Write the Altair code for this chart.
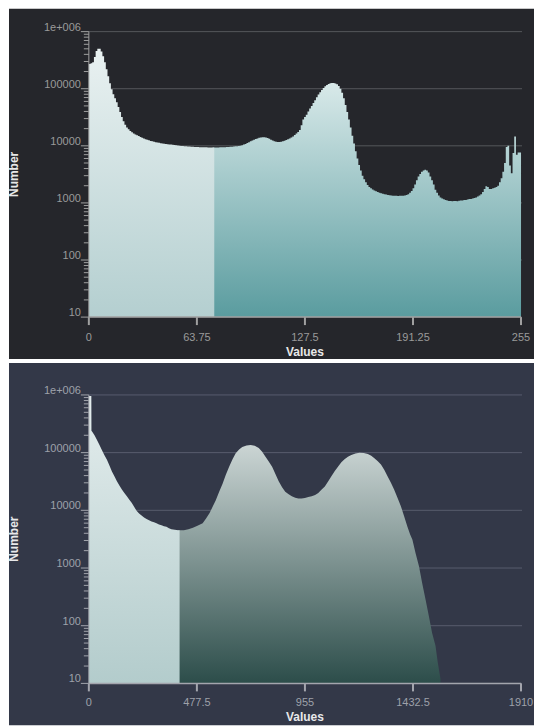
import altair as alt
import pandas as pd

FONT = "Liberation Sans"

# ---------------- top histogram (0..255) ----------------
top_counts = [
    270000, 280000, 290000, 360000, 460000, 500000, 500000, 450000, 370000, 290000,
    220000, 165000, 125000, 98000, 80000, 68000, 58000, 48000, 39000, 32000,
    27000, 23500, 21000, 19500, 18200, 17200, 16400, 15800, 15300, 14800,
    14300, 13900, 13500, 13100, 12800, 12500, 12200, 12000, 11800, 11600,
    11400, 11300, 11100, 11000, 10900, 10800, 10700, 10600, 10500, 10400,
    10300, 10200, 10100, 10000, 9900, 9900, 9800, 9800, 9700, 9700,
    9600, 9600, 9500, 9500, 9500, 9400, 9400, 9400, 9400, 9400,
    9300, 9300, 9300, 9300, 9300, 9300, 9300, 9400, 9400, 9400,
    9400, 9500, 9500, 9600, 9600, 9700, 9800, 9800, 9900, 10000,
    10200, 10500, 10800, 11200, 11600, 12000, 12400, 12800, 13200, 13500,
    13800, 14000, 14100, 14100, 14000, 13700, 13300, 12800, 12400, 12000,
    11800, 11700, 11700, 11800, 12000, 12300, 12700, 13100, 13500, 14000,
    14600, 15500, 16500, 17500, 19000, 23000, 29000, 32000, 35000, 40000,
    45000, 50000, 56000, 63000, 71000, 79000, 87000, 95000, 103000, 110000,
    116000, 121000, 125000, 126000, 126000, 124000, 120000, 112000, 100000, 85000,
    68000, 52000, 39000, 29000, 21000, 15000, 11000, 8000, 6000, 4600,
    3700, 3000, 2600, 2300, 2050, 1900, 1800, 1720, 1650, 1600,
    1550, 1500, 1470, 1450, 1420, 1400, 1380, 1360, 1350, 1330,
    1340, 1330, 1320, 1330, 1340, 1330, 1350, 1380, 1420, 1500,
    1620, 1800, 2100, 2500, 2900, 3200, 3500, 3700, 3800, 3700,
    3400, 2900, 2500, 2100, 1700, 1500, 1350, 1250, 1200, 1160,
    1130, 1100, 1080, 1080, 1070, 1080, 1080, 1070, 1090, 1100,
    1100, 1120, 1130, 1150, 1170, 1170, 1200, 1220, 1250, 1300,
    1350, 1420, 1550, 1750, 1950, 1900, 1750, 1750, 1800, 1850,
    1900, 2000, 2300, 2700, 3500, 5000, 9500, 10000, 4500, 3300,
    7500, 14500, 7000, 7600, 7600, 7600,
]
top_values = list(range(256))
top_split = 74
top_ticks = [0, 63.75, 127.5, 191.25, 255]
top_tick_labels = ["0", "63.75", "127.5", "191.25", "255"]

# ---------------- bottom histogram (0..1910) ----------------
bottom_values = [
    0, 11, 11.5, 15, 25, 36, 47, 58, 69, 80,
    91, 102, 113, 124, 135, 146, 157, 168, 179, 190,
    200, 211, 222, 233, 244, 255, 266, 277, 288, 299,
    310, 321, 332, 343, 354, 365, 380, 395, 401, 420,
    440, 460, 480, 503, 518, 533, 547, 561, 576, 591,
    605, 620, 635, 649, 664, 678, 697, 715, 733, 751,
    766, 780, 795, 810, 825, 839, 854, 868, 883, 897,
    912, 926, 940, 955, 970, 985, 1000, 1014, 1029, 1043,
    1058, 1072, 1087, 1101, 1116, 1130, 1145, 1160, 1178, 1196,
    1215, 1233, 1248, 1262, 1277, 1291, 1306, 1320, 1335, 1349,
    1364, 1379, 1393, 1408, 1420, 1430, 1444, 1459, 1473, 1488,
    1503, 1517, 1532, 1542, 1554,
]
bottom_counts = [
    960000, 960000, 240000, 230000, 200000, 166000, 135000, 110000, 90000, 75000,
    60000, 47000, 39000, 32000, 27000, 23000, 20000, 17500, 15300, 13400,
    11500, 9800, 8800, 8100, 7500, 7100, 6700, 6400, 6200, 6000,
    5700, 5500, 5300, 5200, 4900, 4700, 4600, 4500, 4500, 4500,
    4700, 5000, 5400, 6000, 7200, 8900, 11500, 15000, 21000, 29000,
    41000, 57000, 77000, 98000, 113000, 125000, 133000, 136000, 132000, 120000,
    104000, 86000, 70000, 57000, 42000, 32000, 25000, 21000, 19000, 17500,
    16500, 16000, 16000, 16400, 17000, 17500, 18500, 20000, 23000, 26000,
    32000, 39000, 48000, 57000, 68000, 77000, 85000, 91000, 97000, 100000,
    99000, 95000, 88000, 80000, 71000, 62000, 50000, 39000, 30000, 23000,
    16500, 11800, 8000, 5200, 3800, 3100, 1800, 1070, 550, 284,
    145, 75, 45, 23, 12,
]
bottom_split = 401
bottom_prev = 395  # previous sample, so the darker part slides under the light one
bottom_ticks = [0, 477.5, 955, 1432.5, 1910]
bottom_tick_labels = ["0", "477.5", "955", "1432.5", "1910"]

decades = [10, 100, 1000, 10000, 100000, 1000000]
decade_labels = ["10", "100", "1000", "10000", "100000", "1e+006"]
minor_ticks = [m * 10 ** k for k in range(1, 6) for m in range(2, 10)]

ONE = pd.DataFrame({"k": [0]})


def grad(c0, c1):
    return alt.Gradient(
        gradient="linear",
        stops=[alt.GradientStop(color=c0, offset=0), alt.GradientStop(color=c1, offset=1)],
        x1=1, x2=1, y1=0, y2=1,
    )


def panel(df, xticks, xlabels, xmax, split, dark_from, W, H, bg, light, dark,
          interp, ext, grid_col, axis_col, label_col, title_col, lab_dy, title_dy):
    xs = alt.Scale(domain=[0, xmax], nice=False, zero=False)
    ys = alt.Scale(type="log", domain=[10, 1000000], nice=False)
    left, right, top, bottom = ext

    bg_layer = alt.Chart(ONE).mark_rect(color=bg).encode(
        x=alt.value(-left), x2=alt.value(W + right),
        y=alt.value(-top), y2=alt.value(H + bottom),
    )
    grid = alt.Chart(pd.DataFrame({"n": decades})).mark_rule(
        color=grid_col, strokeWidth=1
    ).encode(
        y=alt.Y("n:Q", scale=ys, axis=None), x=alt.value(0), x2=alt.value(W + 1)
    )
    dark_area = alt.Chart(df).transform_filter(f"datum.v >= {dark_from}").mark_area(
        interpolate=interp, color=grad(*dark), line=False, opacity=1
    ).encode(
        x=alt.X("v:Q", scale=xs, axis=None),
        y=alt.Y("n:Q", scale=ys, axis=None, stack=None),
        y2=alt.datum(10),
    )
    light_area = alt.Chart(df).transform_filter(f"datum.v <= {split}").mark_area(
        interpolate=interp, color=grad(*light), line=False, opacity=1
    ).encode(
        x=alt.X("v:Q", scale=xs, axis=None),
        y=alt.Y("n:Q", scale=ys, axis=None, stack=None),
        y2=alt.datum(10),
    )
    # axis pieces
    y_domain = alt.Chart(ONE).mark_rule(color=axis_col, strokeWidth=1).encode(
        x=alt.value(0), y=alt.value(0), y2=alt.value(H)
    )
    x_domain = alt.Chart(ONE).mark_rule(color=axis_col, strokeWidth=1.5).encode(
        x=alt.value(0), x2=alt.value(W), y=alt.value(H)
    )
    minor = alt.Chart(pd.DataFrame({"n": minor_ticks})).mark_rule(
        color=axis_col, strokeWidth=1
    ).encode(
        y=alt.Y("n:Q", scale=ys, axis=None), x=alt.value(-5), x2=alt.value(0)
    )
    ymajor = alt.Chart(pd.DataFrame({"n": decades})).mark_rule(
        color=axis_col, strokeWidth=1
    ).encode(
        y=alt.Y("n:Q", scale=ys, axis=None), x=alt.value(-8), x2=alt.value(0)
    )
    ylab = alt.Chart(pd.DataFrame({"n": decades, "t": decade_labels})).mark_text(
        align="right", baseline="alphabetic", font=FONT, fontSize=11,
        color=label_col, dy=-1,
    ).encode(
        y=alt.Y("n:Q", scale=ys, axis=None), x=alt.value(-8), text="t:N"
    )
    xmajor = alt.Chart(pd.DataFrame({"v": xticks})).mark_rule(
        color=axis_col, strokeWidth=2
    ).encode(
        x=alt.X("v:Q", scale=xs, axis=None), y=alt.value(H), y2=alt.value(H + 8)
    )
    xlab = alt.Chart(pd.DataFrame({"v": xticks, "t": xlabels})).mark_text(
        align="center", baseline="alphabetic", font=FONT, fontSize=11,
        color=label_col,
    ).encode(
        x=alt.X("v:Q", scale=xs, axis=None), y=alt.value(H + lab_dy), text="t:N"
    )
    xtitle = alt.Chart(ONE).mark_text(
        align="center", baseline="alphabetic", font=FONT, fontSize=12,
        fontWeight="bold", color=title_col,
    ).encode(x=alt.value(W / 2), y=alt.value(H + title_dy), text=alt.value("Values"))
    ytitle = alt.Chart(ONE).mark_text(
        align="center", baseline="middle", font=FONT, fontSize=12,
        fontWeight="bold", color=title_col, angle=270,
    ).encode(x=alt.value(-75), y=alt.value(H / 2), text=alt.value("Number"))

    return alt.layer(
        bg_layer, grid, dark_area, light_area, y_domain, x_domain, minor,
        ymajor, ylab, xmajor, xlab, xtitle, ytitle,
    ).properties(width=W, height=H)


top_df = pd.DataFrame({"v": top_values, "n": top_counts})
bottom_df = pd.DataFrame({"v": bottom_values, "n": bottom_counts})

top_chart = panel(
    top_df, top_ticks, top_tick_labels, 255, top_split, top_split - 1, 433, 286,
    "#25262b", ("#e9f1f1", "#b4cfd0"), ("#d8e9e9", "#5a9c9f"), "step-after",
    (80, 13, 23, 42), "#55565b", "#a0a0a0", "#9a9a9a", "#e8e8e8", 24, 39,
)
bottom_chart = panel(
    bottom_df, bottom_ticks, bottom_tick_labels, 1910, bottom_split, bottom_prev,
    433, 289, "#333848", ("#e4eded", "#b3cccc"), ("#cbd5d4", "#2c4d4a"), "linear",
    (80, 13, 32, 42), "#585c6d", "#a3a5ad", "#9ea1aa", "#e8e8ea", 23, 38,
)

chart = alt.vconcat(top_chart, bottom_chart, spacing=4).properties(
    padding=0
).configure(background="white").configure_view(stroke=None)

chart.save("out.html", embed_options={"renderer": "svg", "actions": False})
